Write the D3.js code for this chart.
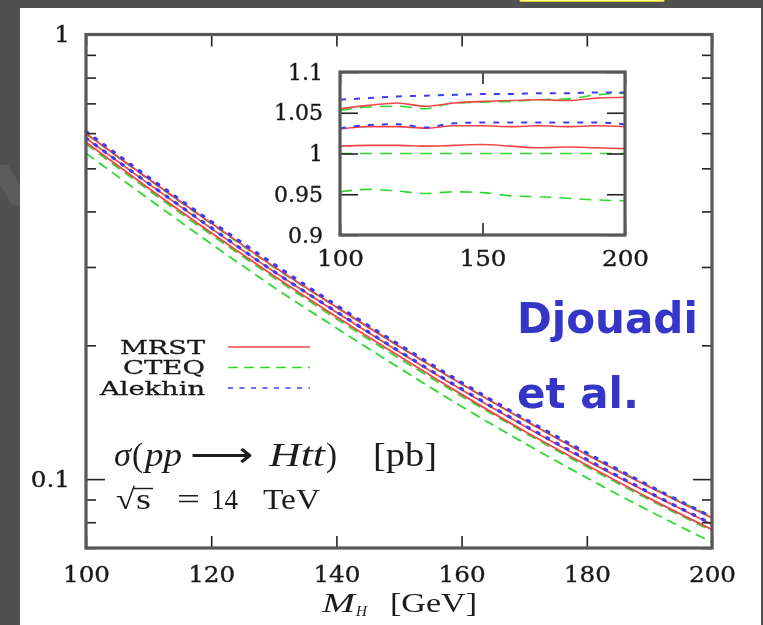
<!DOCTYPE html>
<html>
<head>
<meta charset="utf-8">
<script src="https://cdn.jsdelivr.net/npm/d3@7"></script>
<style>
body { margin:0; background:#505050; }
svg { display:block; }
</style>
</head>
<body>
<div class="svg-container"></div>
<script>
//Higgs masses (GeV)
const masses = [100, 110, 120, 130, 140, 150, 160, 170, 180, 190, 200];

//cross sections sigma(pp -> Htt) in pb, main panel
const mrstA    = [0.5987, 0.4731, 0.3767, 0.3006, 0.2437, 0.1990, 0.1637, 0.1358, 0.1135, 0.0960, 0.0818];
const mrstB    = [0.5845, 0.4614, 0.3664, 0.2929, 0.2373, 0.1934, 0.1588, 0.1317, 0.1101, 0.0930, 0.0790];
const mrstC    = [0.5726, 0.4512, 0.3582, 0.2867, 0.2318, 0.1891, 0.1551, 0.1283, 0.1075, 0.0905, 0.0770];
const cteqA    = [0.5976, 0.4722, 0.3753, 0.2997, 0.2437, 0.1988, 0.1635, 0.1358, 0.1137, 0.0964, 0.0822];
const cteqB    = [0.5675, 0.4467, 0.3547, 0.2841, 0.2295, 0.1870, 0.1537, 0.1274, 0.1066, 0.0899, 0.0765];
const cteqC    = [0.5408, 0.4270, 0.3384, 0.2702, 0.2187, 0.1780, 0.1457, 0.1206, 0.1007, 0.0848, 0.0721];
const alekhinA = [0.6050, 0.4771, 0.3795, 0.3043, 0.2460, 0.2007, 0.1649, 0.1368, 0.1145, 0.0966, 0.0822];
const alekhinB = [0.5851, 0.4623, 0.3675, 0.2932, 0.2380, 0.1941, 0.1595, 0.1322, 0.1107, 0.0933, 0.0793];

//ratios shown in the inset
const mrstRatioA    = [1.055, 1.059, 1.062, 1.058, 1.062, 1.064, 1.065, 1.066, 1.065, 1.068, 1.069];
const mrstRatioB    = [1.030, 1.033, 1.033, 1.031, 1.034, 1.034, 1.033, 1.034, 1.033, 1.034, 1.033];
const mrstRatioC    = [1.009, 1.010, 1.010, 1.009, 1.010, 1.011, 1.009, 1.007, 1.008, 1.007, 1.006];
const cteqRatioA    = [1.053, 1.057, 1.058, 1.055, 1.062, 1.063, 1.064, 1.066, 1.067, 1.072, 1.074];
const cteqRatioB    = [1.000, 1.000, 1.000, 1.000, 1.000, 1.000, 1.000, 1.000, 1.000, 1.000, 1.000];
const cteqRatioC    = [0.953, 0.956, 0.954, 0.951, 0.953, 0.952, 0.948, 0.947, 0.945, 0.943, 0.942];
const alekhinRatioA = [1.066, 1.068, 1.070, 1.071, 1.072, 1.073, 1.073, 1.074, 1.074, 1.075, 1.075];
const alekhinRatioB = [1.031, 1.035, 1.036, 1.032, 1.037, 1.038, 1.038, 1.038, 1.038, 1.038, 1.036];

//tick values and labels
const xTicks = [100, 120, 140, 160, 180, 200];
const yTicks = [0.07, 0.08, 0.09, 0.1, 0.2, 0.3, 0.4, 0.5, 0.6, 0.7, 0.8, 0.9, 1];
const yLabels = {1: '1', 0.1: '0.1'};
const insetXTicks = [100, 150, 200];
const insetYTicks = [0.9, 0.95, 1, 1.05, 1.1];
const legendNames = ['MRST', 'CTEQ', 'Alekhin'];

const width = 763;
const height = 625;
const plot = { left:86, right:712, top:34.5, bottom:548 };
const inset = { left:340, right:625, top:72, bottom:235 };

const colors = { MRST:'#f04646', CTEQ:'#2fd82f', Alekhin:'#3c3cf0' };
const dashes = { MRST:null, CTEQ:'10,6', Alekhin:'2,9' };
const insetDashes = { MRST:null, CTEQ:'12,8', Alekhin:'6,8' };
const ink = '#1a1a1a';

const svg = d3.select('.svg-container')
    .append('svg')
    .attr('width', width)
    .attr('height', height);

//slide background
svg.append('rect').attr('width', width).attr('height', height).attr('fill', '#505050');
svg.append('path').attr('d', 'M0,165 L8,165 L20,185 L20,205 L12,205 L0,185 Z').attr('fill', '#5c5c5c');
svg.append('rect').attr('x', 20).attr('y', 8).attr('width', 741).attr('height', 617).attr('fill', '#fff');
svg.append('rect').attr('x', 520).attr('y', -4).attr('width', 144).attr('height', 5.5)
    .attr('fill', '#ffff88').attr('stroke', '#d9cf30').attr('stroke-width', 1);

//soft blur like the scanned figure
svg.append('defs').append('filter').attr('id', 'soft')
    .append('feGaussianBlur').attr('stdDeviation', 0.45);

const g = svg.append('g').attr('filter', 'url(#soft)');

//scales
const xScale = d3.scaleLinear().domain([100, 200]).range([plot.left, plot.right]);
const yScale = d3.scaleLog().domain([0.07, 1]).range([plot.bottom, plot.top]);
const ixScale = d3.scaleLinear().domain([100, 200]).range([inset.left, inset.right]);
const iyScale = d3.scaleLinear().domain([0.9, 1.1]).range([inset.bottom, inset.top]);

//helper: widen text like the stretched original
const widen = (sel, k) => {
    sel.each(function(){
        const w = this.getComputedTextLength();
        if (w > 0) d3.select(this).attr('textLength', w * k).attr('lengthAdjust', 'spacingAndGlyphs');
    });
};
const styleTicks = (axisG, k) => {
    axisG.select('.domain').remove();
    axisG.selectAll('.tick line').attr('stroke', '#222').attr('stroke-width', 1.6);
    axisG.selectAll('.tick text')
        .attr('font-family', 'DejaVu Serif').attr('font-size', 22)
        .attr('fill', ink).attr('stroke', ink).attr('stroke-width', 0.35);
    widen(axisG.selectAll('.tick text'), k || 1.12);
};
const isMajor = d => d === 1 || Math.abs(d - 0.1) < 1e-9;

//main curves
const mainLine = d3.line()
    .x((d, i) => xScale(masses[i]))
    .y(d => yScale(d))
    .curve(d3.curveMonotoneX);

const mainSeries = [
    {name:'CTEQ', vals:cteqA}, {name:'CTEQ', vals:cteqB}, {name:'CTEQ', vals:cteqC},
    {name:'MRST', vals:mrstA}, {name:'MRST', vals:mrstB}, {name:'MRST', vals:mrstC},
    {name:'Alekhin', vals:alekhinA}, {name:'Alekhin', vals:alekhinB}
];

g.selectAll('.curve')
    .data(mainSeries)
    .join('path')
    .attr('class', 'curve')
    .attr('d', d => mainLine(d.vals))
    .attr('fill', 'none')
    .attr('stroke', d => colors[d.name])
    .attr('stroke-width', d => d.name === 'Alekhin' ? 3.2 : 1.8)
    .attr('stroke-linecap', d => d.name === 'Alekhin' ? 'round' : 'butt')
    .attr('stroke-dasharray', d => dashes[d.name]);

//main axes
const bottomAxis = g.append('g')
    .attr('transform', `translate(0,${plot.bottom})`)
    .call(d3.axisBottom(xScale).tickValues(xTicks).tickSizeInner(-12).tickSizeOuter(0).tickPadding(18).tickFormat(d3.format('d')));
styleTicks(bottomAxis);

const topAxis = g.append('g')
    .attr('transform', `translate(0,${plot.top})`)
    .call(d3.axisTop(xScale).tickValues(xTicks).tickSizeInner(-12).tickSizeOuter(0).tickFormat(''));
styleTicks(topAxis);

const leftAxis = g.append('g')
    .attr('transform', `translate(${plot.left},0)`)
    .call(d3.axisLeft(yScale).tickValues(yTicks).tickSizeInner(-10).tickSizeOuter(0).tickPadding(16)
        .tickFormat(d => yLabels[d] || ''));
styleTicks(leftAxis);
leftAxis.selectAll('.tick line').attr('x2', d => isMajor(d) ? 19 : 10);

const rightAxis = g.append('g')
    .attr('transform', `translate(${plot.right},0)`)
    .call(d3.axisRight(yScale).tickValues(yTicks).tickSizeInner(-10).tickSizeOuter(0).tickFormat(''));
styleTicks(rightAxis);
rightAxis.selectAll('.tick line').attr('x2', d => isMajor(d) ? -19 : -10);

//frame
g.append('rect')
    .attr('x', plot.left).attr('y', plot.top)
    .attr('width', plot.right - plot.left).attr('height', plot.bottom - plot.top)
    .attr('fill', 'none').attr('stroke', '#585858').attr('stroke-width', 3.2);

//helper for stretched text pieces
const piece = (parent, p, size, y) => {
    const t = parent.append('text')
        .attr('x', p.x).attr('y', y + (p.dy || 0))
        .attr('font-family', 'Liberation Serif')
        .attr('font-size', p.size || size)
        .attr('font-style', p.it ? 'italic' : 'normal')
        .attr('fill', ink)
        .text(p.t);
    if (p.w) t.attr('textLength', p.w).attr('lengthAdjust', 'spacingAndGlyphs');
    return t;
};

//x-axis title
[
    {t:'M', x:322, w:33, it:true},
    {t:'H', x:356, w:11, it:true, size:15, dy:4},
    {t:'[GeV]', x:390, w:87}
].forEach(p => piece(g, p, 28, 612));

//inset
g.append('rect')
    .attr('x', inset.left).attr('y', inset.top)
    .attr('width', inset.right - inset.left).attr('height', inset.bottom - inset.top)
    .attr('fill', '#fff');

const insetLine = d3.line()
    .x((d, i) => ixScale(masses[i]))
    .y(d => iyScale(d))
    .curve(d3.curveMonotoneX);

const insetSeries = [
    {name:'CTEQ', vals:cteqRatioA}, {name:'CTEQ', vals:cteqRatioB}, {name:'CTEQ', vals:cteqRatioC},
    {name:'MRST', vals:mrstRatioA}, {name:'MRST', vals:mrstRatioB}, {name:'MRST', vals:mrstRatioC},
    {name:'Alekhin', vals:alekhinRatioA}, {name:'Alekhin', vals:alekhinRatioB}
];

g.selectAll('.inset-curve')
    .data(insetSeries)
    .join('path')
    .attr('class', 'inset-curve')
    .attr('d', d => insetLine(d.vals))
    .attr('fill', 'none')
    .attr('stroke', d => colors[d.name])
    .attr('stroke-width', d => d.name === 'Alekhin' ? 2 : 1.6)
    .attr('stroke-dasharray', d => insetDashes[d.name]);

const insetBottom = g.append('g')
    .attr('transform', `translate(0,${inset.bottom})`)
    .call(d3.axisBottom(ixScale).tickValues(insetXTicks).tickSizeInner(-12).tickSizeOuter(0).tickPadding(15).tickFormat(d3.format('d')));
styleTicks(insetBottom);

const insetTop = g.append('g')
    .attr('transform', `translate(0,${inset.top})`)
    .call(d3.axisTop(ixScale).tickValues(insetXTicks).tickSizeInner(-12).tickSizeOuter(0).tickFormat(''));
styleTicks(insetTop);

const insetLeft = g.append('g')
    .attr('transform', `translate(${inset.left},0)`)
    .call(d3.axisLeft(iyScale).tickValues(insetYTicks).tickSizeInner(-18).tickSizeOuter(0).tickPadding(17).tickFormat(d => String(d)));
styleTicks(insetLeft, 1.0);

const insetRight = g.append('g')
    .attr('transform', `translate(${inset.right},0)`)
    .call(d3.axisRight(iyScale).tickValues(insetYTicks).tickSizeInner(-18).tickSizeOuter(0).tickFormat(''));
styleTicks(insetRight);

g.append('rect')
    .attr('x', inset.left).attr('y', inset.top)
    .attr('width', inset.right - inset.left).attr('height', inset.bottom - inset.top)
    .attr('fill', 'none').attr('stroke', '#585858').attr('stroke-width', 3.2);

//legend
const legendY = d3.scalePoint().domain(legendNames).range([347, 388]);
const legendWidths = { MRST:85, CTEQ:82, Alekhin:105 };

g.selectAll('.legend-text')
    .data(legendNames)
    .join('text')
    .attr('class', 'legend-text')
    .attr('x', 205)
    .attr('y', d => legendY(d))
    .attr('dy', '0.35em')
    .attr('text-anchor', 'end')
    .attr('font-family', 'DejaVu Serif')
    .attr('font-size', 19)
    .attr('fill', ink).attr('stroke', ink).attr('stroke-width', 0.3)
    .attr('textLength', d => legendWidths[d])
    .attr('lengthAdjust', 'spacingAndGlyphs')
    .text(d => d);

g.selectAll('.legend-line')
    .data(legendNames)
    .join('line')
    .attr('class', 'legend-line')
    .attr('x1', 228).attr('x2', 310)
    .attr('y1', d => legendY(d)).attr('y2', d => legendY(d))
    .attr('stroke', d => colors[d])
    .attr('stroke-width', 1.6)
    .attr('stroke-dasharray', d => d === 'Alekhin' ? '5,6.5' : dashes[d]);

//process label
[
    {t:'σ', x:114, w:17, it:true},
    {t:'(', x:132, w:11},
    {t:'pp', x:145, w:37, it:true},
    {t:'⟶', x:190, w:63},
    {t:'Htt', x:269, w:56, it:true},
    {t:')', x:326, w:11},
    {t:'[pb]', x:373, w:64}
].forEach(p => piece(g, p, 33, 466));

//energy label
[
    {t:'√', x:116, w:19},
    {t:'s', x:136, w:15},
    {t:'=', x:177, w:23},
    {t:'14', x:211, w:27},
    {t:'TeV', x:263, w:57}
].forEach(p => piece(g, p, 29, 509));
g.append('line').attr('x1', 133).attr('x2', 153).attr('y1', 488.5).attr('y2', 488.5)
    .attr('stroke', ink).attr('stroke-width', 1.4);

//author note
const note = svg.append('g')
    .attr('font-family', 'DejaVu Sans').attr('font-weight', 'bold')
    .attr('font-size', 42).attr('fill', '#3535c8');
note.append('text').attr('x', 517).attr('y', 333).text('Djouadi');
note.append('text').attr('x', 517).attr('y', 408).text('et al.');
</script>
</body>
</html>
